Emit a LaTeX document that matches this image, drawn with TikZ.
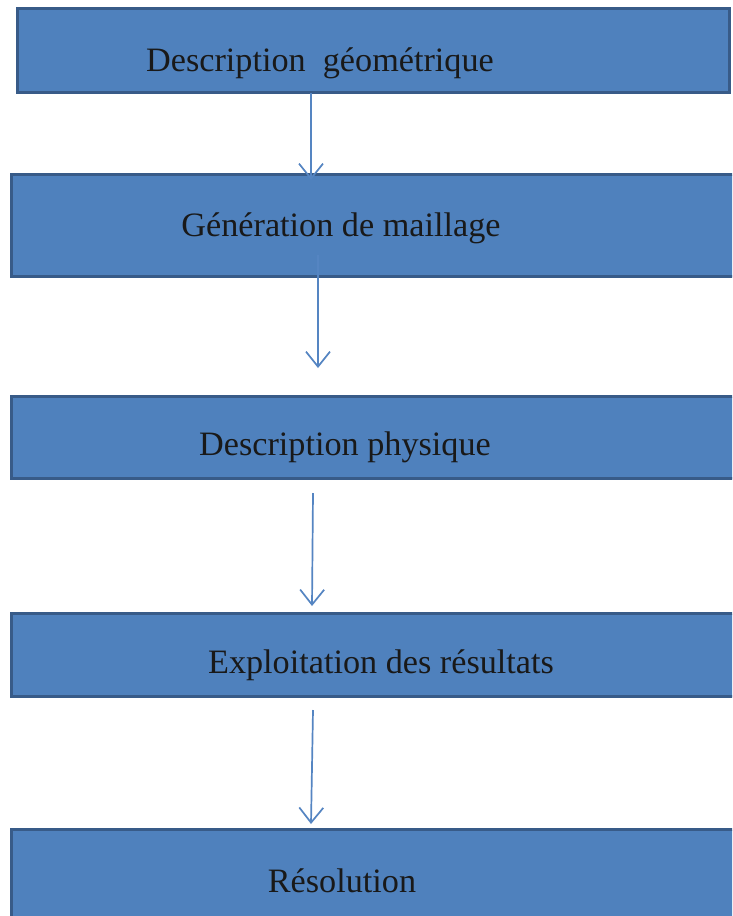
\documentclass[tikz,border=0pt]{standalone}
\usepackage{fontspec}
\setmainfont{Liberation Serif}
\usetikzlibrary{arrows.meta}
\definecolor{boxfill}{HTML}{4F81BD}
\definecolor{boxborder}{HTML}{385B88}
\definecolor{arrowcol}{HTML}{5585C2}
\tikzset{
  stagebox/.style={rectangle, draw=boxborder, fill=boxfill, line width=3.4pt, inner sep=0pt},
  stagelabel/.style={anchor=base, inner sep=0pt, text=black!90, font=\fontsize{34.2}{41}\selectfont},
  flowarrow/.style={draw=arrowcol, line width=1.7pt, -{Straight Barb[length=15pt,width=24pt,line width=1.7pt]}}
}
\begin{document}
\begin{tikzpicture}[x=1pt,y=-1pt]
\useasboundingbox (0,0) rectangle (732,916);
\clip (0,0) rectangle (732,916);
\fill[white] (0,0) rectangle (732,916);
% boxes
\node[stagebox, minimum width=712pt, minimum height=84pt] (b1) at (373.5,50.5) {};
\node[stagebox, minimum width=750pt, minimum height=102pt] (b2) at (386.5,225.5) {};
\node[stagebox, minimum width=750pt, minimum height=82pt] (b3) at (386.5,437.5) {};
\node[stagebox, minimum width=750pt, minimum height=83pt] (b4) at (386.5,655) {};
\node[stagebox, minimum width=750pt, minimum height=101pt] (b5) at (386.5,880) {};
% labels
\node[stagelabel] (t1) at (320,71) {Description\ \ géométrique};
\node[stagelabel] (t2) at (341,236) {Génération de maillage};
\node[stagelabel] (t3) at (345,455) {Description physique};
\node[stagelabel] (t4) at (381,673) {Exploitation des résultats};
\node[stagelabel] (t5) at (342,892) {Résolution};
% arrow end points
\coordinate (a1s) at (311,93);
\coordinate (a1e) at (311,180);
\coordinate (a2s) at (318,255);
\coordinate (a2e) at (318,368);
\coordinate (a3s) at (313,493);
\coordinate (a3e) at (312,606);
\coordinate (a4s) at (313,710);
\coordinate (a4e) at (311,824);
\draw[flowarrow] (a1s) -- (a1e);
\draw[flowarrow] (a2s) -- (a2e);
\draw[flowarrow] (a3s) -- (a3e);
\draw[flowarrow] (a4s) -- (a4e);
\end{tikzpicture}
\end{document}
